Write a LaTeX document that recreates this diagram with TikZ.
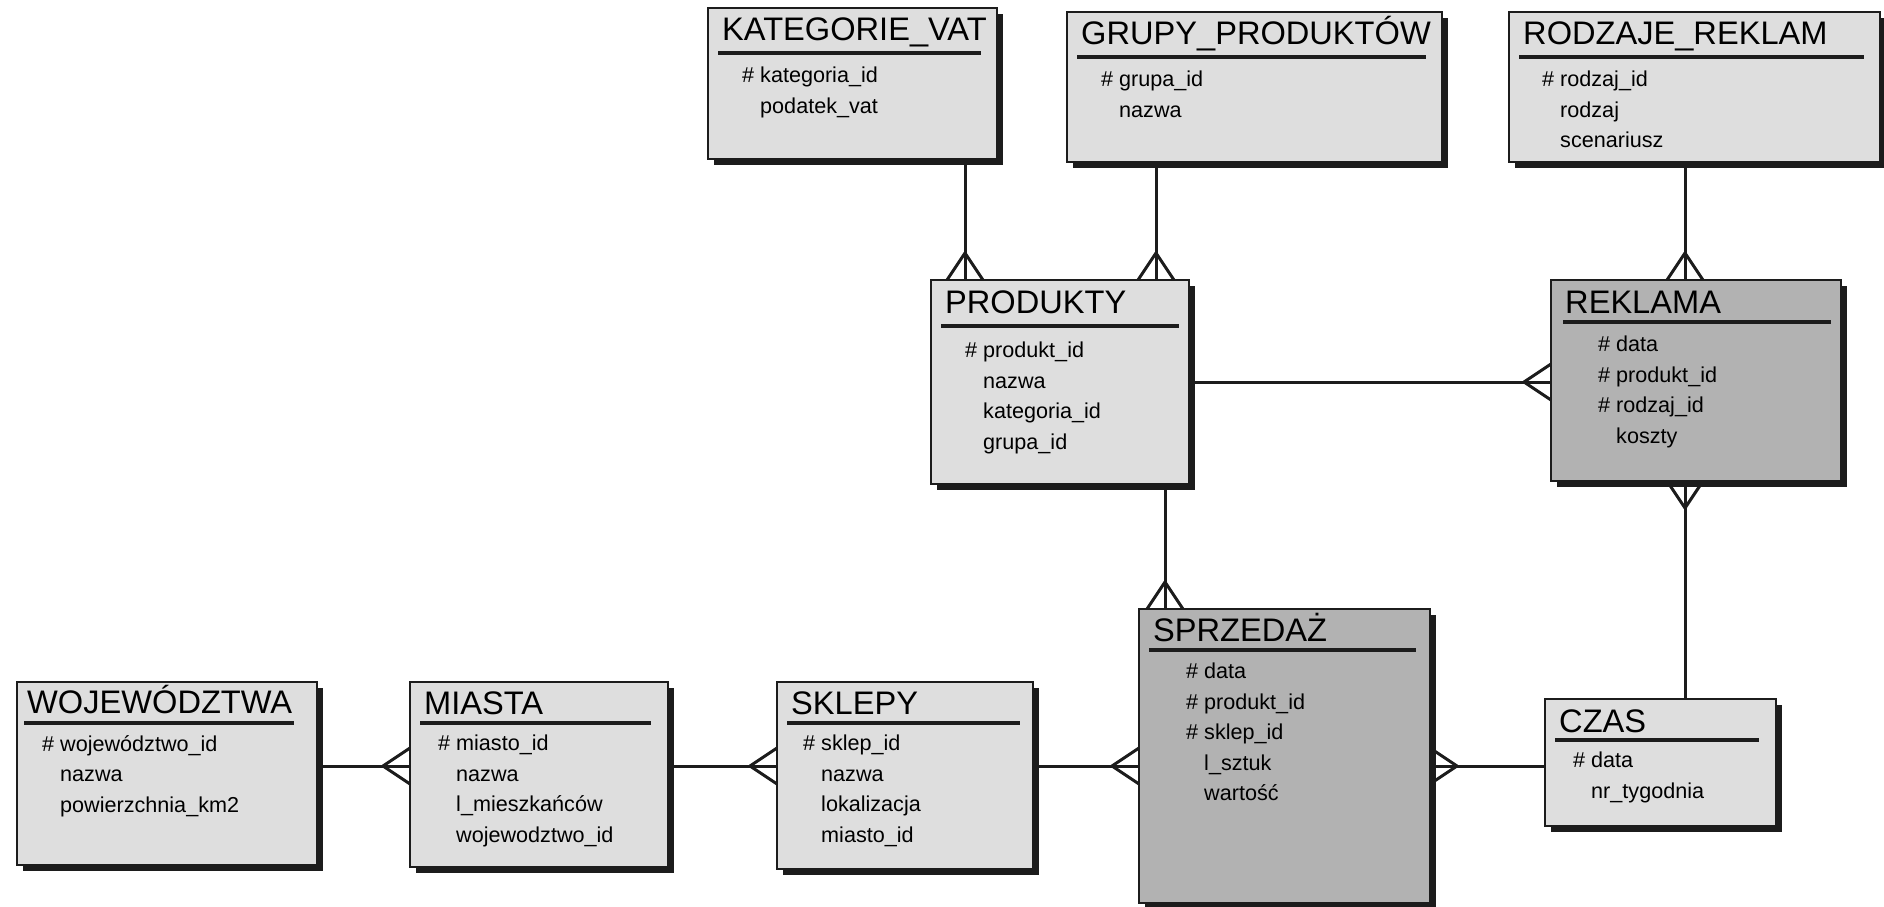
\documentclass[tikz,border=0pt]{standalone}
\usepackage{fontspec}
\setmainfont{Liberation Sans}
\usetikzlibrary{positioning, shadows, decorations.markings}
\definecolor{boxgray}{RGB}{222,222,222}
\definecolor{factgray}{RGB}{178,178,178}
\definecolor{inkgray}{RGB}{28,28,28}
\tikzset{
  entity/.style={rectangle, anchor=north west, draw=inkgray, line width=1.8pt, fill=boxgray, outer sep=0pt, inner sep=0pt,
    drop shadow={shadow xshift=6pt, shadow yshift=-6pt, opacity=1, fill=inkgray, draw=none}},
  fact/.style={entity, fill=factgray},
  title/.style={anchor=base west, inner sep=0pt, font=\fontsize{32.6}{38}\selectfont},
  attrs/.style={anchor=north west, inner sep=0pt, align=left, font=\fontsize{21.6}{30.5}\selectfont},
  headline/.style={line width=3.5pt, draw=inkgray},
  link/.style={line width=3pt, draw=inkgray},
  many at end/.style={postaction=decorate, decoration={markings, mark=at position 1 with {\draw[link] (-27pt,0pt) -- (0pt,18pt) (-27pt,0pt) -- (0pt,-18pt);}}}
}
\begin{document}
\begin{tikzpicture}[x=1pt, y=-1pt]
  \useasboundingbox (0,0) rectangle (1884,906);

  % --- wymiary: slowniki u gory ---
  \node (kat) [entity, minimum width=289pt, minimum height=151pt] at (708,8) {};
  \node (kat-t) [title] at ([shift={(14,32)}]kat.north west) {KATEGORIE\_VAT};
  \draw [headline] ([shift={(10,45)}]kat.north west) -- ([shift={(-16,45)}]kat.north east);
  \node (kat-a) [attrs] at ([shift={(34,59)}]kat.north west) {\# kategoria\_id\\\phantom{\# }podatek\_vat};

  \node (grp) [entity, minimum width=375pt, minimum height=150pt] at (1067,12) {};
  \node (grp-t) [title] at ([shift={(14,32)}]grp.north west) {GRUPY\_PRODUKTÓW};
  \draw [headline] ([shift={(10,45)}]grp.north west) -- ([shift={(-16,45)}]grp.north east);
  \node (grp-a) [attrs] at ([shift={(34,59)}]grp.north west) {\# grupa\_id\\\phantom{\# }nazwa};

  \node (rodz) [entity, minimum width=371pt, minimum height=150pt] at (1509,12) {};
  \node (rodz-t) [title] at ([shift={(14,32)}]rodz.north west) {RODZAJE\_REKLAM};
  \draw [headline] ([shift={(10,45)}]rodz.north west) -- ([shift={(-16,45)}]rodz.north east);
  \node (rodz-a) [attrs] at ([shift={(33,59)}]rodz.north west) {\# rodzaj\_id\\\phantom{\# }rodzaj\\\phantom{\# }scenariusz};

  % --- produkty i reklama ---
  \node (prod) [entity, minimum width=258pt, minimum height=204pt] at (931,280) {};
  \node (prod-t) [title] at ([shift={(14,33)}]prod.north west) {PRODUKTY};
  \draw [headline] ([shift={(10,46)}]prod.north west) -- ([shift={(-10,46)}]prod.north east);
  \node (prod-a) [attrs] at ([shift={(34,62)}]prod.north west) {\# produkt\_id\\\phantom{\# }nazwa\\\phantom{\# }kategoria\_id\\\phantom{\# }grupa\_id};

  \node (rek) [fact, minimum width=290pt, minimum height=201pt] at (1551,280) {};
  \node (rek-t) [title] at ([shift={(14,33)}]rek.north west) {REKLAMA};
  \draw [headline] ([shift={(12,42)}]rek.north west) -- ([shift={(-10,42)}]rek.north east);
  \node (rek-a) [attrs] at ([shift={(47,56)}]rek.north west) {\# data\\\# produkt\_id\\\# rodzaj\_id\\\phantom{\# }koszty};

  % --- dolny rzad ---
  \node (woj) [entity, minimum width=300pt, minimum height=183pt] at (17,682) {};
  \node (woj-t) [title] at ([shift={(10,31)}]woj.north west) {WOJEWÓDZTWA};
  \draw [headline] ([shift={(7,41)}]woj.north west) -- ([shift={(-23,41)}]woj.north east);
  \node (woj-a) [attrs] at ([shift={(25,53)}]woj.north west) {\# województwo\_id\\\phantom{\# }nazwa\\\phantom{\# }powierzchnia\_km2};

  \node (mia) [entity, minimum width=258pt, minimum height=185pt] at (410,682) {};
  \node (mia-t) [title] at ([shift={(14,32)}]mia.north west) {MIASTA};
  \draw [headline] ([shift={(10,41)}]mia.north west) -- ([shift={(-17,41)}]mia.north east);
  \node (mia-a) [attrs] at ([shift={(28,53)}]mia.north west) {\# miasto\_id\\\phantom{\# }nazwa\\\phantom{\# }l\_mieszkańców\\\phantom{\# }wojewodztwo\_id};

  \node (skl) [entity, minimum width=256pt, minimum height=187pt] at (777,682) {};
  \node (skl-t) [title] at ([shift={(14,32)}]skl.north west) {SKLEPY};
  \draw [headline] ([shift={(10,41)}]skl.north west) -- ([shift={(-13,41)}]skl.north east);
  \node (skl-a) [attrs] at ([shift={(26,53)}]skl.north west) {\# sklep\_id\\\phantom{\# }nazwa\\\phantom{\# }lokalizacja\\\phantom{\# }miasto\_id};

  \node (spr) [fact, minimum width=291pt, minimum height=294pt] at (1139,609) {};
  \node (spr-t) [title] at ([shift={(14,32)}]spr.north west) {SPRZEDAŻ};
  \draw [headline] ([shift={(10,41)}]spr.north west) -- ([shift={(-14,41)}]spr.north east);
  \node (spr-a) [attrs] at ([shift={(47,54)}]spr.north west) {\# data\\\# produkt\_id\\\# sklep\_id\\\phantom{\# }l\_sztuk\\\phantom{\# }wartość};

  \node (czas) [entity, minimum width=231pt, minimum height=127pt] at (1545,699) {};
  \node (czas-t) [title] at ([shift={(14,33)}]czas.north west) {CZAS};
  \draw [headline] ([shift={(10,41)}]czas.north west) -- ([shift={(-17,41)}]czas.north east);
  \node (czas-a) [attrs] at ([shift={(28,53)}]czas.north west) {\# data\\\phantom{\# }nr\_tygodnia};

  % --- polaczenia (wiele po stronie z kurza stopka) ---
  \coordinate (katx) at (965,0);
  \coordinate (grpx) at (1156,0);
  \coordinate (rekx) at (1685,0);
  \coordinate (sprx) at (1165,0);
  \coordinate (prody) at (0,382);
  \coordinate (rowy) at (0,766);

  \draw [link, many at end] (kat.south -| katx) -- (prod.north -| katx);
  \draw [link, many at end] (grp.south -| grpx) -- (prod.north -| grpx);
  \draw [link, many at end] (rodz.south -| rekx) -- (rek.north -| rekx);
  \draw [link, many at end] (prod.east |- prody) -- (rek.west |- prody);
  \draw [link, many at end] (prod.south -| sprx) -- (spr.north -| sprx);
  \draw [link, many at end] (czas.north -| rekx) -- (rek.south -| rekx);
  \draw [link, many at end] (woj.east |- rowy) -- (mia.west |- rowy);
  \draw [link, many at end] (mia.east |- rowy) -- (skl.west |- rowy);
  \draw [link, many at end] (skl.east |- rowy) -- (spr.west |- rowy);
  \draw [link, many at end] (czas.west |- rowy) -- (spr.east |- rowy);
\end{tikzpicture}
\end{document}
